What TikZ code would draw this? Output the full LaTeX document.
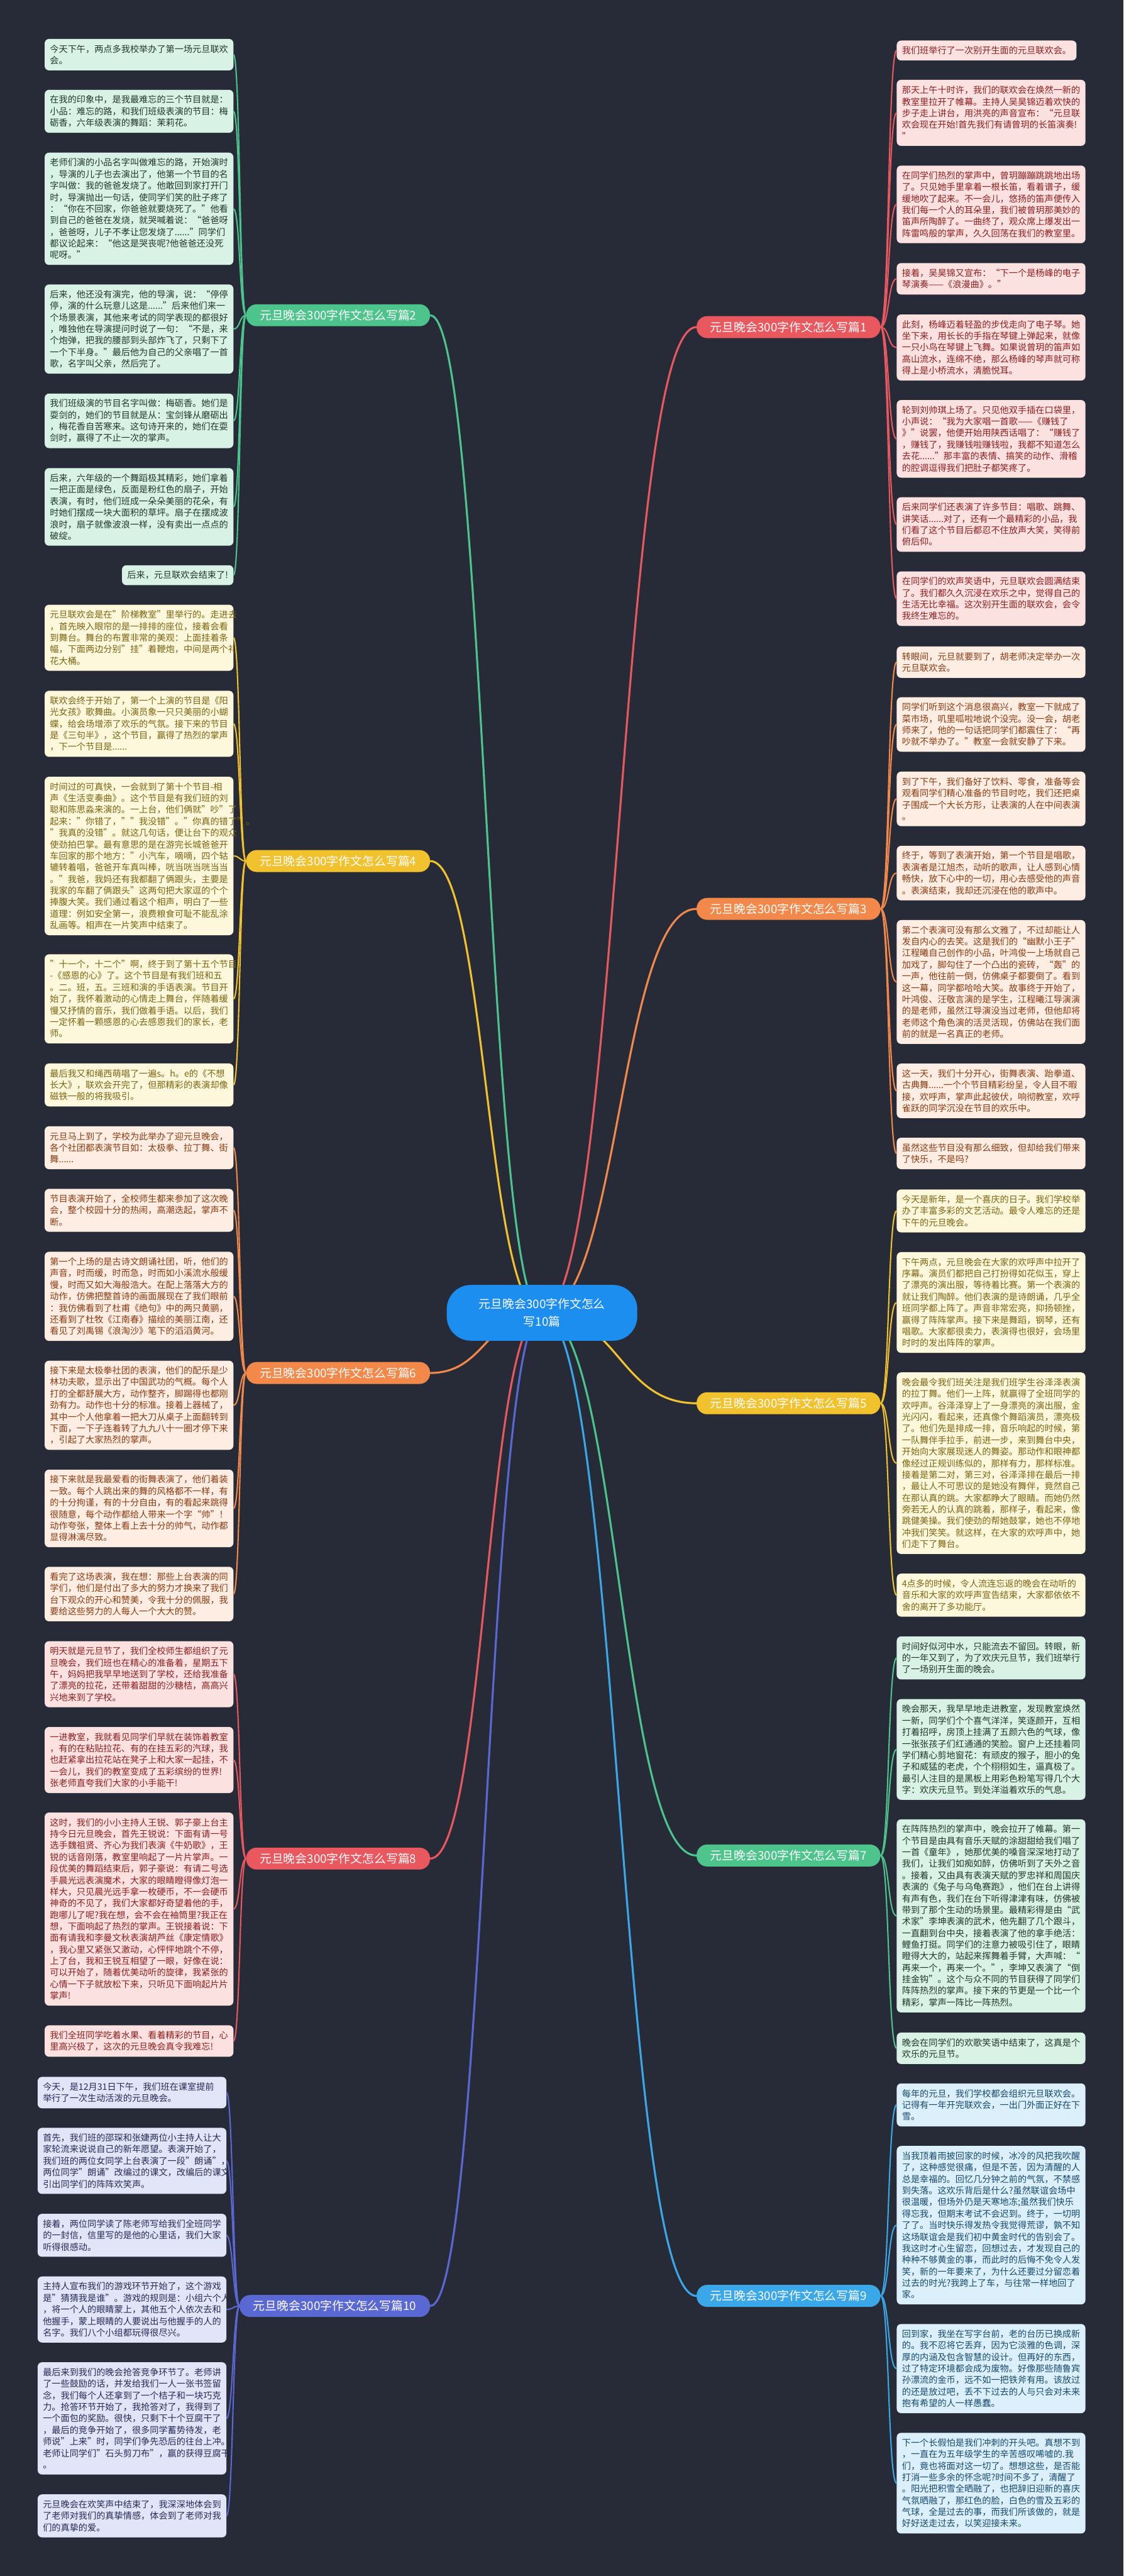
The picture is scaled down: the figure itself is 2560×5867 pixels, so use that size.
\documentclass[tikz,border=0pt]{standalone}
\usepackage{fontspec}
\setmainfont{Noto Sans CJK SC}

\definecolor{bg}{HTML}{272B37}
\definecolor{rootblue}{HTML}{1C8EF0}
\definecolor{grnmain}{HTML}{4CC48C}
\definecolor{grnfill}{HTML}{D8F3E6}
\definecolor{grntext}{HTML}{24352D}
\definecolor{ylwmain}{HTML}{F2C12E}
\definecolor{ylwfill}{HTML}{FDF7DC}
\definecolor{ylwtext}{HTML}{7A6512}
\definecolor{orgmain}{HTML}{F2894A}
\definecolor{orgfill}{HTML}{FDEDE2}
\definecolor{orgtext}{HTML}{8A3B12}
\definecolor{redmain}{HTML}{E8585E}
\definecolor{redfill}{HTML}{FCE1E1}
\definecolor{redtext}{HTML}{8C1F1F}
\definecolor{pplmain}{HTML}{5A68D3}
\definecolor{pplfill}{HTML}{E2E5F7}
\definecolor{ppltext}{HTML}{262B55}
\definecolor{skymain}{HTML}{3AA8E8}
\definecolor{skyfill}{HTML}{DCF0FB}
\definecolor{skytext}{HTML}{17496B}

\tikzset{
	leaf/.style = {rounded corners = 10pt, align = left, text width = 406pt, inner xsep = 12pt, inner ysep = 4pt, minimum height = {19pt + 26.3pt * #1}, font = \fontsize{20.3}{26.3}\selectfont},
	lf/.style = {leaf = #1, anchor = east},
	rt/.style = {leaf = #1, anchor = west},
	branch/.style = {rounded corners = 24pt, minimum height = 50pt, inner xsep = 31pt, text = white, font = \fontsize{27}{32}\selectfont},
	grn/.style = {fill = grnfill, text = grntext},
	ylw/.style = {fill = ylwfill, text = ylwtext},
	org/.style = {fill = orgfill, text = orgtext},
	red/.style = {fill = redfill, text = redtext},
	ppl/.style = {fill = pplfill, text = ppltext},
	sky/.style = {fill = skyfill, text = skytext},
	link/.style = {line width = 3pt},
	trunk/.style = {line width = 4.5pt}
}

\begin{document}
\begin{tikzpicture} [x = 1pt, y = -1pt]
	\fill [bg] (0,0) rectangle (2560,5867);
	\coordinate (hub) at (1235,2990);

	% left branches
	\node (b2) [branch, fill = grnmain, anchor = east] at (980,718) {元旦晚会300字作文怎么写篇2};
	\node (b4) [branch, fill = ylwmain, anchor = east] at (980,1961) {元旦晚会300字作文怎么写篇4};
	\node (b6) [branch, fill = orgmain, anchor = east] at (980,3127) {元旦晚会300字作文怎么写篇6};
	\node (b8) [branch, fill = redmain, anchor = east] at (980,4233) {元旦晚会300字作文怎么写篇8};
	\node (b10) [branch, fill = pplmain, anchor = east] at (980,5252) {元旦晚会300字作文怎么写篇10};

	% right branches
	\node (b1) [branch, fill = redmain, anchor = west] at (1587,745) {元旦晚会300字作文怎么写篇1};
	\node (b3) [branch, fill = orgmain, anchor = west] at (1587,2070) {元旦晚会300字作文怎么写篇3};
	\node (b5) [branch, fill = ylwmain, anchor = west] at (1587,3196) {元旦晚会300字作文怎么写篇5};
	\node (b7) [branch, fill = grnmain, anchor = west] at (1587,4226) {元旦晚会300字作文怎么写篇7};
	\node (b9) [branch, fill = skymain, anchor = west] at (1587,5229) {元旦晚会300字作文怎么写篇9};

	% leaves of b2
	\node (t2a) [lf = 2, grn] at (532,124.5) {今天下午，两点多我校举办了第一场元旦联欢\\会。};
	\node (t2b) [lf = 3, grn] at (532,253.5) {在我的印象中，是我最难忘的三个节目就是：\\小品：难忘的路，和我们班级表演的节目：梅\\砺香，六年级表演的舞蹈：茉莉花。};
	\node (t2c) [lf = 9, grn] at (532,475.5) {老师们演的小品名字叫做难忘的路，开始演时\\，导演的儿子也去演出了，他第一个节目的名\\字叫做：我的爸爸发烧了。他敢回到家打开门\\时，导演抛出一句话，使同学们笑的肚子疼了\\：“你在不回家，你爸爸就要烧死了。”他看\\到自己的爸爸在发烧，就哭喊着说：“爸爸呀\\，爸爸呀，儿子不孝让您发烧了......”同学们\\都议论起来：“他这是哭丧呢?他爸爸还没死\\呢呀。”};
	\node (t2d) [lf = 7, grn] at (532,749.5) {后来，他还没有演完，他的导演，说：“停停\\停，演的什么玩意儿这是......”后来他们来一\\个场景表演，其他来考试的同学表现的都很好\\，唯独他在导演提问时说了一句：“不是，来\\个炮弹，把我的腰部到头部炸飞了，只剩下了\\一个下半身。”最后他为自己的父亲唱了一首\\歌，名字叫父亲，然后完了。};
	\node (t2e) [lf = 4, grn] at (532,958.5) {我们班级演的节目名字叫做：梅砺香。她们是\\耍剑的，她们的节目就是从：宝剑锋从磨砺出\\，梅花香自苦寒来。这句诗开来的，她们在耍\\剑时，赢得了不止一次的掌声。};
	\node (t2f) [lf = 6, grn] at (532,1154.5) {后来，六年级的一个舞蹈极其精彩，她们拿着\\一把正面是绿色，反面是粉红色的扇子，开始\\表演，有时，他们班成一朵朵美丽的花朵，有\\时她们摆成一块大面积的草坪。扇子在摆成波\\浪时，扇子就像波浪一样，没有卖出一点点的\\破绽。};
	\node (t2g) [lf = 1, grn, text width = {}] at (532,1310) {后来，元旦联欢会结束了!};

	% leaves of b4
	\node (t4a) [lf = 5, ylw] at (532,1452.5) {元旦联欢会是在"阶梯教室"里举行的。走进去\\，首先映入眼帘的是一排排的座位，接着会看\\到舞台。舞台的布置非常的美观：上面挂着条\\幅，下面两边分别"挂"着鞭炮，中间是两个礼\\花大桶。};
	\node (t4b) [lf = 5, ylw] at (532,1648.5) {联欢会终于开始了，第一个上演的节目是《阳\\光女孩》歌舞曲。小演员象一只只美丽的小蝴\\蝶，给会场增添了欢乐的气氛。接下来的节目\\是《三句半》，这个节目，赢得了热烈的掌声\\，下一个节目是......};
	\node (t4c) [lf = 13, ylw] at (532,1949.5) {时间过的可真快，一会就到了第十个节目-相\\声《生活变奏曲》。这个节目是有我们班的刘\\聪和陈思淼来演的。一上台，他们俩就"吵"了\\起来："你错了，""我没错"。"你真的错了"。\\"我真的没错"。就这几句话，便让台下的观众\\使劲拍巴掌。最有意思的是在游完长城爸爸开\\车回家的那个地方："小汽车，嘀嘀，四个轱\\辘转着唱，爸爸开车真叫棒，咣当咣当咣当当\\。"我爸，我妈还有我都翻了俩跟头，主要是\\我家的车翻了俩跟头"这两句把大家逗的个个\\捧腹大笑。我们通过看这个相声，明白了一些\\道理：例如安全第一，浪费粮食可耻不能乱涂\\乱画等。相声在一片笑声中结束了。};
	\node (t4d) [lf = 7, ylw] at (532,2275) {"十一个，十二个"啊，终于到了第十五个节目\\-《感恩的心》了。这个节目是有我们班和五\\。二。班，五。三班和演的手语表演。节目开\\始了，我怀着激动的心情走上舞台，伴随着缓\\慢又抒情的音乐，我们做着手语。以后，我们\\一定怀着一颗感恩的心去感恩我们的家长，老\\师。};
	\node (t4e) [lf = 3, ylw] at (532,2471) {最后我又和绳西萌唱了一遍s。h。e的《不想\\长大》，联欢会开完了，但那精彩的表演却像\\磁铁一般的将我吸引。};

	% leaves of b6
	\node (t6a) [lf = 3, org] at (532,2614) {元旦马上到了，学校为此举办了迎元旦晚会，\\各个社团都表演节目如：太极拳、拉丁舞、街\\舞......};
	\node (t6b) [lf = 3, org] at (532,2756.5) {节目表演开始了，全校师生都来参加了这次晚\\会，整个校园十分的热闹，高潮迭起，掌声不\\断。};
	\node (t6c) [lf = 7, org] at (532,2952.5) {第一个上场的是古诗文朗诵社团，听，他们的\\声音，时而缓，时而急，时而如小溪流水般缓\\慢，时而又如大海般浩大。在配上落落大方的\\动作，仿佛把整首诗的画面展现在了我们眼前\\：我仿佛看到了杜甫《绝句》中的两只黄鹂，\\还看到了杜牧《江南春》描绘的美丽江南，还\\看见了刘禹锡《浪淘沙》笔下的滔滔黄河。};
	\node (t6d) [lf = 7, org] at (532,3200.5) {接下来是太极拳社团的表演，他们的配乐是少\\林功夫歌，显示出了中国武功的气概。每个人\\打的全都舒展大方，动作整齐，脚踢得也都刚\\劲有力。动作也十分的标准。接着上器械了，\\其中一个人他拿着一把大刀从桌子上面翻转到\\下面，一下子连着转了九九八十一圈才停下来\\，引起了大家热烈的掌声。};
	\node (t6e) [lf = 6, org] at (532,3435.5) {接下来就是我最爱看的街舞表演了，他们着装\\一致。每个人跳出来的舞的风格都不一样，有\\的十分拘谨，有的十分自由，有的看起来跳得\\很随意，每个动作都给人带来一个字“帅”！\\动作夸张，整体上看上去十分的帅气，动作都\\显得淋漓尽致。};
	\node (t6f) [lf = 4, org] at (532,3630.5) {看完了这场表演，我在想：那些上台表演的同\\学们，他们是付出了多大的努力才换来了我们\\台下观众的开心和赞美，令我十分的佩服，我\\要给这些努力的人每人一个大大的赞。};

	% leaves of b8
	\node (t8a) [lf = 5, red] at (532,3813) {明天就是元旦节了，我们全校师生都组织了元\\旦晚会，我们班也在精心的准备着，星期五下\\午，妈妈把我早早地送到了学校，还给我准备\\了漂亮的拉花，还带着甜甜的沙糖桔，高高兴\\兴地来到了学校。};
	\node (t8b) [lf = 5, red] at (532,4008.5) {一进教室，我就看见同学们早就在装饰着教室\\，有的在粘贴拉花、有的在挂五彩的汽球，我\\也赶紧拿出拉花站在凳子上和大家一起挂，不\\一会儿，我们的教室变成了五彩缤纷的世界!\\张老师直夸我们大家的小手能干!};
	\node (t8c) [lf = 16, red] at (532,4348) {这时，我们的小小主持人王锐、郭子豪上台主\\持今日元旦晚会，首先王锐说：下面有请一号\\选手魏祖贤、齐心为我们表演《牛奶歌》，王\\锐的话音刚落，教室里响起了一片片掌声。一\\段优美的舞蹈结束后，郭子豪说：有请二号选\\手晨光远表演魔术，大家的眼睛瞪得像灯泡一\\样大，只见晨光远手拿一枚硬币，不一会硬币\\神奇的不见了，我们大家都好奇望着他的手，\\跑哪儿了呢?我在想，会不会在袖筒里?我正在\\想，下面响起了热烈的掌声。王锐接着说：下\\面有请我和李曼文秋表演胡芦丝《康定情歌》\\，我心里又紧张又激动，心怦怦地跳个不停，\\上了台，我和王锐互相望了一眼，好像在说：\\可以开始了，随着优美动听的旋律，我紧张的\\心情一下子就放松下来，只听见下面响起片片\\掌声!};
	\node (t8d) [lf = 2, red] at (532,4648.5) {我们全班同学吃着水果、看着精彩的节目，心\\里高兴极了，这次的元旦晚会真令我难忘!};

	% leaves of b10
	\node (t10a) [lf = 2, ppl] at (516,4766) {今天，是12月31日下午，我们班在课室提前\\举行了一次生动活泼的元旦晚会。};
	\node (t10b) [lf = 5, ppl] at (516,4921.5) {首先，我们班的邵琛和张婕两位小主持人让大\\家轮流来说说自己的新年愿望。表演开始了，\\我们班的两位女同学上台表演了一段"朗诵"，\\两位同学"朗诵"改编过的课文，改编后的课文\\引出同学们的阵阵欢笑声。};
	\node (t10c) [lf = 3, ppl] at (516,5091) {接着，两位同学读了陈老师写给我们全班同学\\的一封信，信里写的是他的心里话，我们大家\\听得很感动。};
	\node (t10d) [lf = 5, ppl] at (516,5260) {主持人宣布我们的游戏环节开始了，这个游戏\\是"猜猜我是谁"。游戏的规则是：小组六个人\\，将一个人的眼睛蒙上，其他五个人依次去和\\他握手，蒙上眼睛的人要说出与他握手的人的\\名字。我们八个小组都玩得很尽兴。};
	\node (t10e) [lf = 9, ppl] at (516,5508) {最后来到我们的晚会抢答竞争环节了。老师讲\\了一些鼓励的话，并发给我们一人一张书签留\\念，我们每个人还拿到了一个桔子和一块巧克\\力。抢答环节开始了，我抢答对了，我得到了\\一个面包的奖励。很快，只剩下十个豆腐干了\\，最后的竞争开始了，很多同学蓄势待发，老\\师说"上来"时，同学们争先恐后的往台上冲。\\老师让同学们"石头剪刀布"，赢的获得豆腐干\\。};
	\node (t10f) [lf = 3, ppl] at (516,5730) {元旦晚会在欢笑声中结束了，我深深地体会到\\了老师对我们的真挚情感，体会到了老师对我\\们的真挚的爱。};

	% leaves of b1
	\node (t1a) [rt = 1, red, text width = {}] at (2043,115) {我们班举行了一次别开生面的元旦联欢会。};
	\node (t1b) [rt = 5, red] at (2043,257) {那天上午十时许，我们的联欢会在焕然一新的\\教室里拉开了帷幕。主持人吴昊锦迈着欢快的\\步子走上讲台，用洪亮的声音宣布：“元旦联\\欢会现在开始!首先我们有请曾玥的长笛演奏!\\”};
	\node (t1c) [rt = 6, red] at (2043,465.5) {在同学们热烈的掌声中，曾玥蹦蹦跳跳地出场\\了。只见她手里拿着一根长笛，看着谱子，缓\\缓地吹了起来。不一会儿，悠扬的笛声便传入\\我们每一个人的耳朵里，我们被曾玥那美妙的\\笛声所陶醉了。一曲终了，观众席上爆发出一\\阵雷鸣般的掌声，久久回荡在我们的教室里。};
	\node (t1d) [rt = 2, red] at (2043,635) {接着，吴昊锦又宣布：“下一个是杨峰的电子\\琴演奏——《浪漫曲》。”};
	\node (t1e) [rt = 5, red] at (2043,791.5) {此刻，杨峰迈着轻盈的步伐走向了电子琴。她\\坐下来，用长长的手指在琴键上弹起来，就像\\一只小鸟在琴键上飞舞。如果说曾玥的笛声如\\高山流水，连绵不绝，那么杨峰的琴声就可称\\得上是小桥流水，清脆悦耳。};
	\node (t1f) [rt = 6, red] at (2043,999.5) {轮到刘帅琪上场了。只见他双手插在口袋里，\\小声说：“我为大家唱一首歌——《赚钱了\\》”说罢，他便开始用陕西话唱了：“赚钱了\\，赚钱了，我赚钱啦赚钱啦，我都不知道怎么\\去花......”那丰富的表情、搞笑的动作、滑稽\\的腔调逗得我们把肚子都笑疼了。};
	\node (t1g) [rt = 4, red] at (2043,1194.5) {后来同学们还表演了许多节目：唱歌、跳舞、\\讲笑话......对了，还有一个最精彩的小品，我\\们看了这个节目后都忍不住放声大笑，笑得前\\俯后仰。};
	\node (t1h) [rt = 4, red] at (2043,1363.5) {在同学们的欢声笑语中，元旦联欢会圆满结束\\了。我们都久久沉浸在欢乐之中，觉得自己的\\生活无比幸福。这次别开生面的联欢会，会令\\我终生难忘的。};

	% leaves of b3
	\node (t3a) [rt = 2, org] at (2043,1508) {转眼间，元旦就要到了，胡老师决定举办一次\\元旦联欢会。};
	\node (t3b) [rt = 4, org] at (2043,1650) {同学们听到这个消息很高兴，教室一下就成了\\菜市场，叽里呱啦地说个没完。没一会，胡老\\师来了，他的一句话把同学们都震住了：“再\\吵就不举办了。”教室一会就安静了下来。};
	\node (t3c) [rt = 4, org] at (2043,1819.5) {到了下午，我们备好了饮料、零食，准备等会\\观看同学们精心准备的节目时吃，我们还把桌\\子围成一个大长方形，让表演的人在中间表演\\。};
	\node (t3d) [rt = 4, org] at (2043,1988.5) {终于，等到了表演开始，第一个节目是唱歌，\\表演者是江旭杰，动听的歌声，让人感到心情\\畅快，放下心中的一切，用心去感受他的声音\\。表演结束，我却还沉浸在他的歌声中。};
	\node (t3e) [rt = 10, org] at (2043,2236.5) {第二个表演可没有那么文雅了，不过却能让人\\发自内心的去笑。这是我们的“幽默小王子”\\江程曦自己创作的小品，叶鸿俊一上场就自己\\加戏了，脚勾住了一个凸出的瓷砖，“轰”的\\一声，他往前一倒，仿佛桌子都要倒了。看到\\这一幕，同学都哈哈大笑。故事终于开始了，\\叶鸿俊、汪敬言演的是学生，江程曦江导演演\\的是老师，虽然江导演没当过老师，但他却将\\老师这个角色演的活灵活现，仿佛站在我们面\\前的就是一名真正的老师。};
	\node (t3f) [rt = 4, org] at (2043,2484.5) {这一天，我们十分开心，街舞表演、跆拳道、\\古典舞......一个个节目精彩纷呈，令人目不暇\\接，欢呼声，掌声此起彼伏，响彻教室，欢呼\\雀跃的同学沉没在节目的欢乐中。};
	\node (t3g) [rt = 2, org] at (2043,2627) {虽然这些节目没有那么细致，但却给我们带来\\了快乐，不是吗?};

	% leaves of b5
	\node (t5a) [rt = 3, ylw] at (2043,2758) {今天是新年，是一个喜庆的日子。我们学校举\\办了丰富多彩的文艺活动。最令人难忘的还是\\下午的元旦晚会。};
	\node (t5b) [rt = 8, ylw] at (2043,2966.5) {下午两点，元旦晚会在大家的欢呼声中拉开了\\序幕。演员们都把自己打扮得如花似玉，穿上\\了漂亮的演出服，等待着比赛。第一个表演的\\就让我们陶醉。他们表演的是诗朗诵，几乎全\\班同学都上阵了。声音非常宏亮，抑扬顿挫，\\赢得了阵阵掌声。接下来是舞蹈，钢琴，还有\\唱歌。大家都很卖力，表演得也很好，会场里\\时时的发出阵阵的掌声。};
	\node (t5c) [rt = 15, ylw] at (2043,3332.5) {晚会最令我们班关注是我们班学生谷泽泽表演\\的拉丁舞。他们一上阵，就赢得了全班同学的\\欢呼声。谷泽泽穿上了一身漂亮的演出服，金\\光闪闪，看起来，还真像个舞蹈演员，漂亮极\\了。他们先是排成一排，音乐响起的时候，第\\一队舞伴手拉手，前进一步，来到舞台中央，\\开始向大家展现迷人的舞姿。那动作和眼神都\\像经过正规训练似的，那样有力，那样标准。\\接着是第二对，第三对，谷泽泽排在最后一排\\，最让人不可思议的是她没有舞伴，竟然自己\\在那认真的跳。大家都睁大了眼睛。而她仍然\\旁若无人的认真的跳着，那样子，看起来，像\\跳健美操。我们使劲的帮她鼓掌，她也不停地\\冲我们笑笑。就这样，在大家的欢呼声中，她\\们走下了舞台。};
	\node (t5d) [rt = 3, ylw] at (2043,3633) {4点多的时候，令人流连忘返的晚会在动听的\\音乐和大家的欢呼声宣告结束，大家都依依不\\舍的离开了多功能厅。};

	% leaves of b7
	\node (t7a) [rt = 3, grn] at (2043,3776) {时间好似河中水，只能流去不留回。转眼，新\\的一年又到了，为了欢庆元旦节，我们班举行\\了一场别开生面的晚会。};
	\node (t7b) [rt = 8, grn] at (2043,3984.5) {晚会那天，我早早地走进教室，发现教室焕然\\一新，同学们个个喜气洋洋，笑逐颜开，互相\\打着招呼，房顶上挂满了五颜六色的气球，像\\一张张孩子们红通通的笑脸。窗户上还挂着同\\学们精心剪地窗花：有顽皮的猴子，胆小的兔\\子和威猛的老虎，个个栩栩如生，逼真极了。\\最引人注目的是黑板上用彩色粉笔写得几个大\\字：欢庆元旦节。到处洋溢着欢乐的气息。};
	\node (t7c) [rt = 16, grn] at (2043,4363.5) {在阵阵热烈的掌声中，晚会拉开了帷幕。第一\\个节目是由具有音乐天赋的涂甜甜给我们唱了\\一首《童年》，她那优美的嗓音深深地打动了\\我们，让我们如痴如醉，仿佛听到了天外之音\\。接着，又由具有表演天赋的罗忠祥和周国庆\\表演的《兔子与乌龟赛跑》，他们在台上讲得\\有声有色，我们在台下听得津津有味，仿佛被\\带到了那个生动的场景里。最精彩得是由“武\\术家”李坤表演的武术，他先翻了几个跟斗，\\一直翻到台中央，接着表演了他的拿手绝活：\\鲤鱼打挺。同学们的注意力被吸引住了，眼睛\\瞪得大大的，站起来挥舞着手臂，大声喊：“\\再来一个，再来一个。”，李坤又表演了“倒\\挂金钩”。这个与众不同的节目获得了同学们\\阵阵热烈的掌声。接下来的节更是一个比一个\\精彩，掌声一阵比一阵热烈。};
	\node (t7d) [rt = 2, grn] at (2043,4665) {晚会在同学们的欢歌笑语中结束了，这真是个\\欢乐的元旦节。};

	% leaves of b9
	\node (t9a) [rt = 3, sky] at (2043,4794) {每年的元旦，我们学校都会组织元旦联欢会。\\记得有一年开完联欢会，一出门外面正好在下\\雪。};
	\node (t9b) [rt = 13, sky] at (2043,5068) {当我顶着雨披回家的时候，冰冷的风把我吹醒\\了，这种感觉很痛，但是不苦，因为清醒的人\\总是幸福的。回忆几分钟之前的气氛，不禁感\\到失落。这欢乐背后是什么?虽然联谊会场中\\很温暖，但场外仍是天寒地冻;虽然我们快乐\\得忘我，但期末考试不会迟到。终于，一切明\\了了。当时快乐得发热令我觉得荒谬，孰不知\\这场联谊会是我们初中黄金时代的告别会了。\\我这时才心生留恋，回想过去，才发现自己的\\种种不够黄金的事，而此时的后悔不免令人发\\笑，新的一年要来了，为什么还要过分留恋着\\过去的时光?我跨上了车，与往常一样地回了\\家。};
	\node (t9c) [rt = 7, sky] at (2043,5394.5) {回到家，我坐在写字台前，老的台历已换成新\\的。我不忍将它丢弃，因为它淡雅的色调，深\\厚的内涵及包含智慧的设计。但再好的东西，\\过了特定环境都会成为废物。好像那些随鲁宾\\孙漂流的金币，远不如一把铁斧有用。该放过\\的还是放过吧，丢不下过去的人与只会对未来\\抱有希望的人一样愚蠢。};
	\node (t9d) [rt = 8, sky] at (2043,5655.5) {下一个长假怕是我们冲刺的开头吧。真想不到\\，一直在为五年级学生的辛苦感叹唏嘘的.我\\们，竟也将面对这一切了。想想这些，是否能\\打消一些多余的怀念呢?时间不多了，清醒了\\。阳光把积雪全晒融了，也把辞旧迎新的喜庆\\气氛晒融了，那红色的脸，白色的雪及五彩的\\气球，全是过去的事，而我们所该做的，就是\\好好送走过去，以笑迎接未来。};

	% hub to branches
	\draw [trunk, grnmain] (hub) .. controls +(-127,0) and +(127,0) .. (b2.east);
	\draw [trunk, ylwmain] (hub) .. controls +(-127,0) and +(127,0) .. (b4.east);
	\draw [trunk, orgmain] (hub) .. controls +(-127,0) and +(127,0) .. (b6.east);
	\draw [trunk, redmain] (hub) .. controls +(-127,0) and +(127,0) .. (b8.east);
	\draw [trunk, pplmain] (hub) .. controls +(-127,0) and +(127,0) .. (b10.east);
	\draw [trunk, redmain] (hub) .. controls +(176,0) and +(-176,0) .. (b1.west);
	\draw [trunk, orgmain] (hub) .. controls +(176,0) and +(-176,0) .. (b3.west);
	\draw [trunk, ylwmain] (hub) .. controls +(176,0) and +(-176,0) .. (b5.west);
	\draw [trunk, grnmain] (hub) .. controls +(176,0) and +(-176,0) .. (b7.west);
	\draw [trunk, skymain] (hub) .. controls +(176,0) and +(-176,0) .. (b9.west);

	% b2
	\draw [link, grnmain] (b2.west) .. controls +(-15,0) and +(15,0) .. (t2a.east);
	\draw [link, grnmain] (b2.west) .. controls +(-15,0) and +(15,0) .. (t2b.east);
	\draw [link, grnmain] (b2.west) .. controls +(-15,0) and +(15,0) .. (t2c.east);
	\draw [link, grnmain] (b2.west) .. controls +(-15,0) and +(15,0) .. (t2d.east);
	\draw [link, grnmain] (b2.west) .. controls +(-15,0) and +(15,0) .. (t2e.east);
	\draw [link, grnmain] (b2.west) .. controls +(-15,0) and +(15,0) .. (t2f.east);
	\draw [link, grnmain] (b2.west) .. controls +(-15,0) and +(15,0) .. (t2g.east);
	% b4
	\draw [link, ylwmain] (b4.west) .. controls +(-15,0) and +(15,0) .. (t4a.east);
	\draw [link, ylwmain] (b4.west) .. controls +(-15,0) and +(15,0) .. (t4b.east);
	\draw [link, ylwmain] (b4.west) .. controls +(-15,0) and +(15,0) .. (t4c.east);
	\draw [link, ylwmain] (b4.west) .. controls +(-15,0) and +(15,0) .. (t4d.east);
	\draw [link, ylwmain] (b4.west) .. controls +(-15,0) and +(15,0) .. (t4e.east);
	% b6
	\draw [link, orgmain] (b6.west) .. controls +(-15,0) and +(15,0) .. (t6a.east);
	\draw [link, orgmain] (b6.west) .. controls +(-15,0) and +(15,0) .. (t6b.east);
	\draw [link, orgmain] (b6.west) .. controls +(-15,0) and +(15,0) .. (t6c.east);
	\draw [link, orgmain] (b6.west) .. controls +(-15,0) and +(15,0) .. (t6d.east);
	\draw [link, orgmain] (b6.west) .. controls +(-15,0) and +(15,0) .. (t6e.east);
	\draw [link, orgmain] (b6.west) .. controls +(-15,0) and +(15,0) .. (t6f.east);
	% b8
	\draw [link, redmain] (b8.west) .. controls +(-15,0) and +(15,0) .. (t8a.east);
	\draw [link, redmain] (b8.west) .. controls +(-15,0) and +(15,0) .. (t8b.east);
	\draw [link, redmain] (b8.west) .. controls +(-15,0) and +(15,0) .. (t8c.east);
	\draw [link, redmain] (b8.west) .. controls +(-15,0) and +(15,0) .. (t8d.east);
	% b10
	\draw [link, pplmain] (b10.west) .. controls +(-15,0) and +(15,0) .. (t10a.east);
	\draw [link, pplmain] (b10.west) .. controls +(-15,0) and +(15,0) .. (t10b.east);
	\draw [link, pplmain] (b10.west) .. controls +(-15,0) and +(15,0) .. (t10c.east);
	\draw [link, pplmain] (b10.west) .. controls +(-15,0) and +(15,0) .. (t10d.east);
	\draw [link, pplmain] (b10.west) .. controls +(-15,0) and +(15,0) .. (t10e.east);
	\draw [link, pplmain] (b10.west) .. controls +(-15,0) and +(15,0) .. (t10f.east);
	% b1
	\draw [link, redmain] (b1.east) .. controls +(20,0) and +(-20,0) .. (t1a.west);
	\draw [link, redmain] (b1.east) .. controls +(20,0) and +(-20,0) .. (t1b.west);
	\draw [link, redmain] (b1.east) .. controls +(20,0) and +(-20,0) .. (t1c.west);
	\draw [link, redmain] (b1.east) .. controls +(20,0) and +(-20,0) .. (t1d.west);
	\draw [link, redmain] (b1.east) .. controls +(20,0) and +(-20,0) .. (t1e.west);
	\draw [link, redmain] (b1.east) .. controls +(20,0) and +(-20,0) .. (t1f.west);
	\draw [link, redmain] (b1.east) .. controls +(20,0) and +(-20,0) .. (t1g.west);
	\draw [link, redmain] (b1.east) .. controls +(20,0) and +(-20,0) .. (t1h.west);
	% b3
	\draw [link, orgmain] (b3.east) .. controls +(20,0) and +(-20,0) .. (t3a.west);
	\draw [link, orgmain] (b3.east) .. controls +(20,0) and +(-20,0) .. (t3b.west);
	\draw [link, orgmain] (b3.east) .. controls +(20,0) and +(-20,0) .. (t3c.west);
	\draw [link, orgmain] (b3.east) .. controls +(20,0) and +(-20,0) .. (t3d.west);
	\draw [link, orgmain] (b3.east) .. controls +(20,0) and +(-20,0) .. (t3e.west);
	\draw [link, orgmain] (b3.east) .. controls +(20,0) and +(-20,0) .. (t3f.west);
	\draw [link, orgmain] (b3.east) .. controls +(20,0) and +(-20,0) .. (t3g.west);
	% b5
	\draw [link, ylwmain] (b5.east) .. controls +(20,0) and +(-20,0) .. (t5a.west);
	\draw [link, ylwmain] (b5.east) .. controls +(20,0) and +(-20,0) .. (t5b.west);
	\draw [link, ylwmain] (b5.east) .. controls +(20,0) and +(-20,0) .. (t5c.west);
	\draw [link, ylwmain] (b5.east) .. controls +(20,0) and +(-20,0) .. (t5d.west);
	% b7
	\draw [link, grnmain] (b7.east) .. controls +(20,0) and +(-20,0) .. (t7a.west);
	\draw [link, grnmain] (b7.east) .. controls +(20,0) and +(-20,0) .. (t7b.west);
	\draw [link, grnmain] (b7.east) .. controls +(20,0) and +(-20,0) .. (t7c.west);
	\draw [link, grnmain] (b7.east) .. controls +(20,0) and +(-20,0) .. (t7d.west);
	% b9
	\draw [link, skymain] (b9.east) .. controls +(20,0) and +(-20,0) .. (t9a.west);
	\draw [link, skymain] (b9.east) .. controls +(20,0) and +(-20,0) .. (t9b.west);
	\draw [link, skymain] (b9.east) .. controls +(20,0) and +(-20,0) .. (t9c.west);
	\draw [link, skymain] (b9.east) .. controls +(20,0) and +(-20,0) .. (t9d.west);

	\node (root) [fill = rootblue, text = white, rounded corners = 55pt, minimum width = 434pt, minimum height = 127pt, align = center, font = \fontsize{27}{40}\selectfont] at (hub) {元旦晚会300字作文怎么\\写10篇};
\end{tikzpicture}
\end{document}
